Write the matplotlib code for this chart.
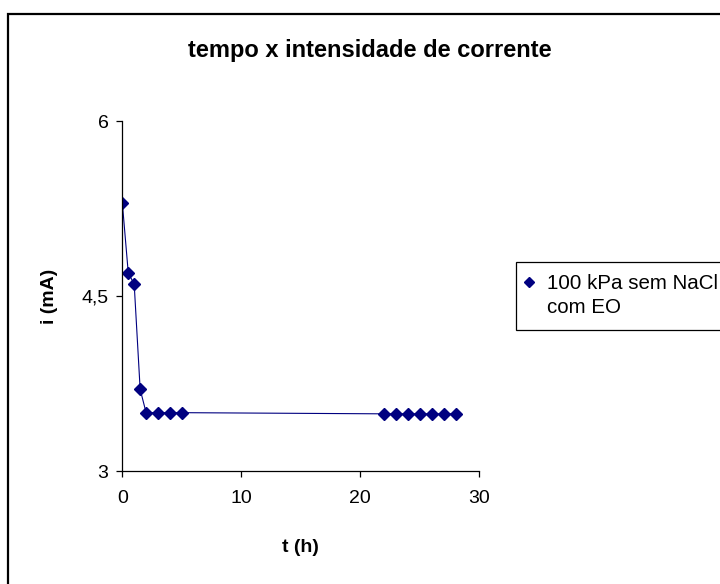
import matplotlib
matplotlib.use("Agg")
import matplotlib.pyplot as plt
from matplotlib.lines import Line2D
from matplotlib.patches import Rectangle
from matplotlib.ticker import FuncFormatter

plt.rcParams['font.family'] = ['Liberation Sans', 'DejaVu Sans']

# tempo (h) x corrente (mA)
tempo = [0, 0.5, 1, 1.5, 2, 3, 4, 5, 22, 23, 24, 25, 26, 27, 28]
corrente = [5.3, 4.7, 4.6, 3.7, 3.5, 3.5, 3.5, 3.5,
            3.49, 3.49, 3.49, 3.49, 3.49, 3.49, 3.49]
serie_l1 = "100 kPa sem NaCl"
serie_l2 = "com EO"
titulo = "tempo x intensidade de corrente"
x_ticks = [0, 10, 20, 30]
y_ticks = [3, 4.5, 6]

cor = "#000080"

fig = plt.figure(figsize=(7.2, 5.84), dpi=100)
ax = fig.add_axes([122.3 / 720, 1 - 471 / 584, 357 / 720, 350 / 584])

ax.plot(tempo, corrente, color=cor, linewidth=0.8, marker="D",
        markersize=6.5, markeredgecolor=cor, markerfacecolor=cor)

ax.set_xlim(0, 30)
ax.set_ylim(3, 6)
ax.set_xticks(x_ticks)
ax.set_yticks(y_ticks)
ax.yaxis.set_major_formatter(
    FuncFormatter(lambda v, p: ("%g" % v).replace(".", ",")))

for lado in ["top", "right"]:
    ax.spines[lado].set_visible(False)
for lado in ["left", "bottom"]:
    ax.spines[lado].set_linewidth(0.9)
ax.tick_params(axis="both", direction="out", length=4, width=0.9,
               labelsize=14)
ax.tick_params(axis="x", pad=10)
ax.tick_params(axis="y", pad=6)

# rótulos dos eixos
ax.set_xlabel("t (h)", fontsize=14, fontweight="bold")
ax.set_ylabel("i (mA)", fontsize=14, fontweight="bold")
ax.xaxis.label.set_va("center")
ax.yaxis.label.set_va("center")
ax.xaxis.set_label_coords(0.5, (471 - 547) / 350)
ax.yaxis.set_label_coords((50 - 122.3) / 357, 0.5)

fig.text(370 / 720, 1 - 51 / 584, titulo, ha="center", va="center",
         fontsize=17, fontweight="bold")

# legenda (segunda linha como entrada sem marcador)
h1 = Line2D([], [], color=cor, marker="D", linestyle="none",
            markersize=5)
h2 = Line2D([], [], linestyle="none", marker="none")
leg = ax.legend([h1, h2], [serie_l1, serie_l2], loc="upper left",
                bbox_to_anchor=(516 / 720, 1 - 262 / 584),
                bbox_transform=fig.transFigure, fontsize=14.8,
                frameon=True, fancybox=False, edgecolor="black",
                framealpha=1, borderpad=0.6, handlelength=0.1,
                handletextpad=0.8, labelspacing=0.25, borderaxespad=0)
leg.get_frame().set_linewidth(0.9)

# moldura externa do gráfico
moldura = Rectangle((8 / 720, -0.1), 1.5, 1 - 14 / 584 + 0.1,
                    transform=fig.transFigure, fill=False,
                    edgecolor="black", linewidth=1.6, clip_on=False)
fig.patches.append(moldura)

fig.savefig("out.png", dpi=100)
plt.close(fig)
